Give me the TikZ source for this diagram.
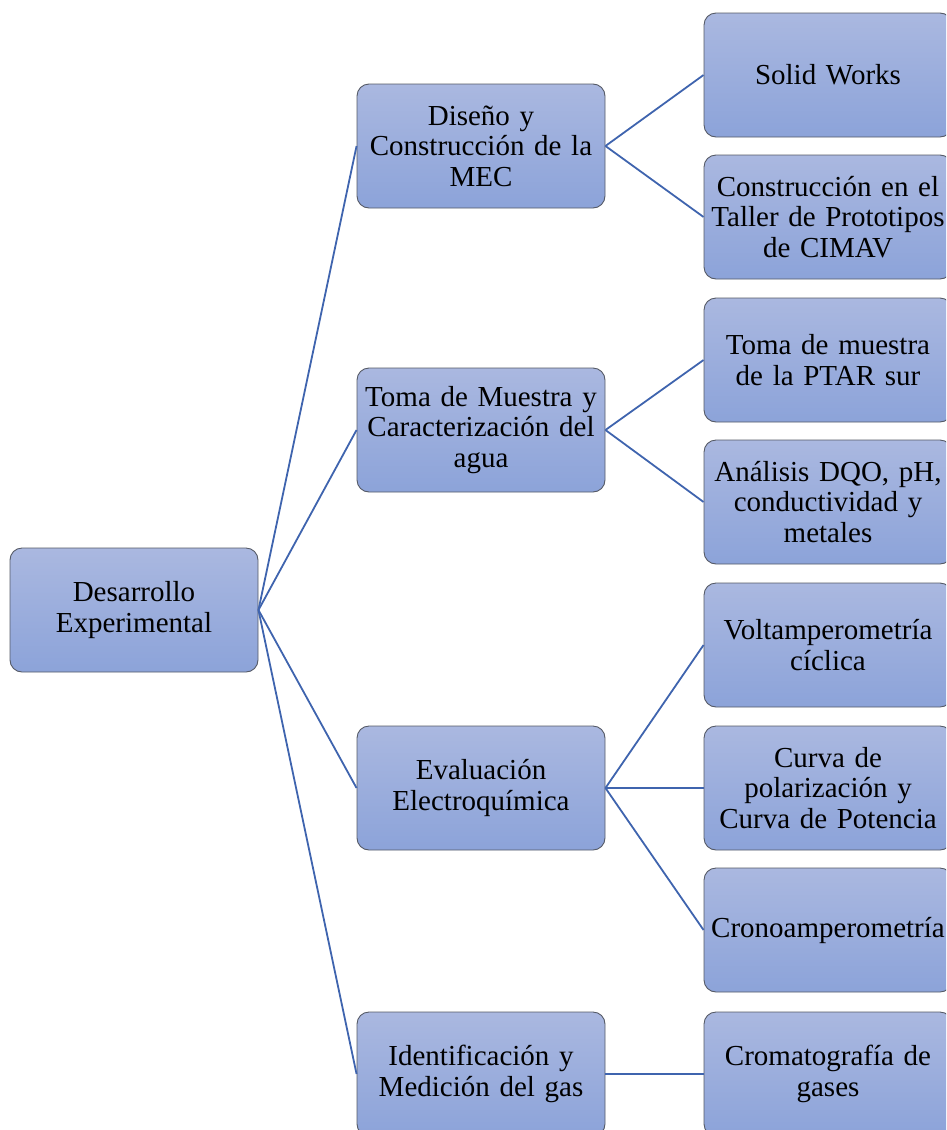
\documentclass[tikz,border=0pt]{standalone}
\usepackage{fontspec}
\setmainfont{Liberation Serif}
\definecolor{boxtop}{HTML}{AAB8E0}
\definecolor{boxbot}{HTML}{8CA3D9}
\definecolor{boxline}{HTML}{555A66}
\definecolor{conn}{HTML}{3F64AE}
\tikzset{
  box/.style={draw=boxline, line width=0.9pt, rounded corners=12pt,
    top color=boxtop, bottom color=boxbot,
    minimum width=248pt, minimum height=124pt, inner sep=0pt,
    text width=248pt, align=center,
    font=\fontsize{29}{30.5}\selectfont},
  link/.style={draw=conn, line width=1.8pt}
}
\begin{document}
\begin{tikzpicture}[x=1pt,y=-1pt]
\useasboundingbox (0,0) rectangle (946,1130);
\clip (0,0) rectangle (946,1130);
\node[box] (root) at (134,610) {Desarrollo\\Experimental};
\node[box] (a) at (481,146) {Diseño y\\Construcción de la\\MEC};
\node[box] (b) at (481,430) {Toma de Muestra y\\Caracterización del\\agua};
\node[box] (c) at (481,788) {Evaluación\\Electroquímica};
\node[box] (d) at (481,1074) {Identificación y\\Medición del gas};
\node[box] (a1) at (828,75) {Solid Works};
\node[box] (a2) at (828,217) {Construcción en el\\Taller de Prototipos\\de CIMAV};
\node[box] (b1) at (828,360) {Toma de muestra\\de la PTAR sur};
\node[box] (b2) at (828,502) {Análisis DQO, pH,\\conductividad y\\metales};
\node[box] (c1) at (828,645) {Voltamperometría\\cíclica};
\node[box] (c2) at (828,788) {Curva de\\polarización y\\Curva de Potencia};
\node[box] (c3) at (828,930) {Cronoamperometría};
\node[box] (d1) at (828,1074) {Cromatografía de\\gases};
\foreach \t in {a,b,c,d} \draw[link] (root.east) -- (\t.west);
\foreach \t in {a1,a2} \draw[link] (a.east) -- (\t.west);
\foreach \t in {b1,b2} \draw[link] (b.east) -- (\t.west);
\foreach \t in {c1,c2,c3} \draw[link] (c.east) -- (\t.west);
\draw[link] (d.east) -- (d1.west);
\end{tikzpicture}
\end{document}
